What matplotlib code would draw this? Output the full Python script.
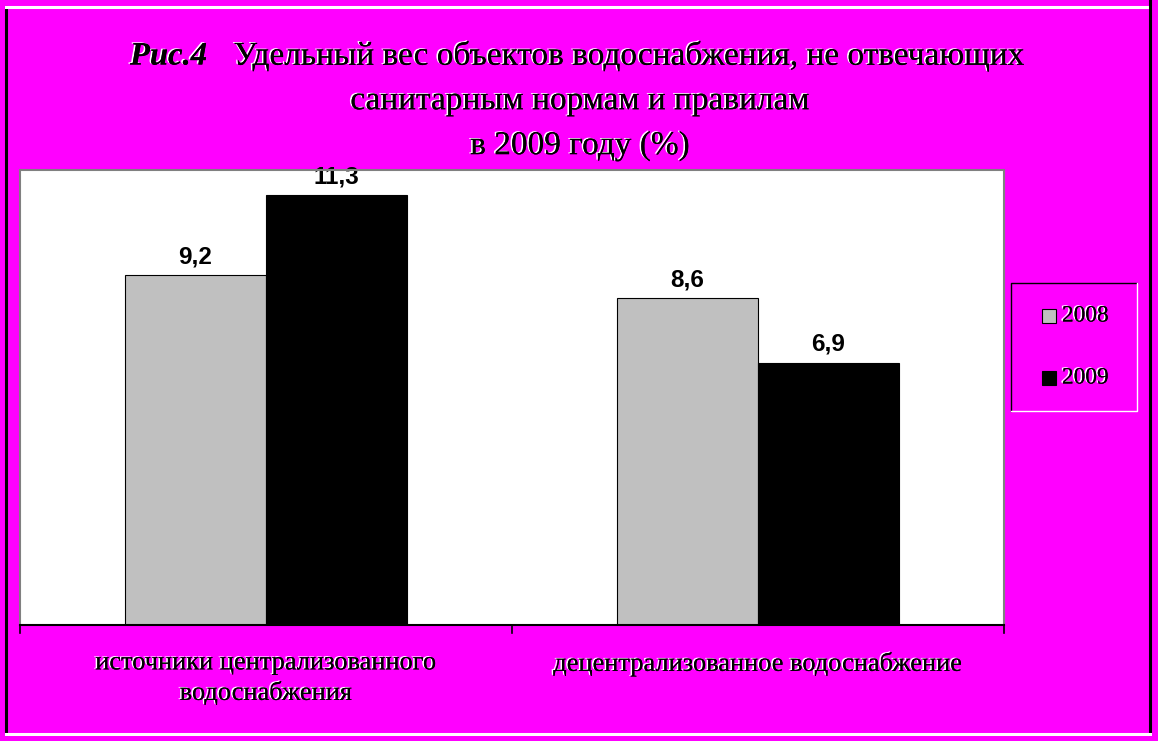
import matplotlib
matplotlib.use("Agg")
import matplotlib.pyplot as plt
import matplotlib.patheffects as pe
from matplotlib.patches import Rectangle
from matplotlib.lines import Line2D
import numpy as np

categories = ["источники централизованного\nводоснабжения", "децентрализованное водоснабжение"]
series_names = ["2008", "2009"]
values_2008 = [9.2, 8.6]
values_2009 = [11.3, 6.9]
value_labels_2008 = ["9,2", "8,6"]
value_labels_2009 = ["11,3", "6,9"]

MAG = "#FF00FF"
W, H = 1158, 741
fig = plt.figure(figsize=(W / 100, H / 100), dpi=100, facecolor=MAG)

def fx(px):
    return px / W

def fy(py):
    return 1 - py / H

serif = ["Liberation Serif", "DejaVu Serif"]
sans = ["Liberation Sans", "DejaVu Sans"]
emboss = [pe.withSimplePatchShadow(offset=(-1.2, 0.6), shadow_rgbFace="white", alpha=1.0), pe.Normal()]

# outer frame lines
fig.add_artist(Line2D([fx(6), fx(6)], [fy(7), fy(734)], color="black", lw=2.2, transform=fig.transFigure))
fig.add_artist(Line2D([fx(6), fx(1150)], [fy(7), fy(7)], color="white", lw=2.2, transform=fig.transFigure))
fig.add_artist(Line2D([fx(1150), fx(1150)], [fy(0), fy(734)], color="black", lw=2.2, transform=fig.transFigure))
fig.add_artist(Line2D([fx(6), fx(1150)], [fy(734), fy(734)], color="white", lw=2.2, transform=fig.transFigure))

ax = fig.add_axes([fx(20), fy(625), fx(1004) - fx(20), fy(170) - fy(625)])
ax.set_facecolor("white")
x = np.arange(len(categories))
bw = 0.2866
b1 = ax.bar(x - bw / 2, values_2008, width=bw, color="#C0C0C0", edgecolor="black", linewidth=0.8, zorder=2)
b2 = ax.bar(x + bw / 2, values_2009, width=bw, color="black", edgecolor="black", linewidth=0.8, zorder=2)
ax.set_xlim(-0.5, 1.5)
ax.set_ylim(0, 11.97)
ax.set_yticks([])
ax.set_xticks([])
for s in ["left", "top", "right"]:
    ax.spines[s].set_color("#808080")
    ax.spines[s].set_linewidth(1.5)
ax.spines["bottom"].set_color("black")
ax.spines["bottom"].set_linewidth(1.5)

# category boundary ticks
for xb in [-0.5, 0.5, 1.5]:
    ax.plot([xb, xb], [0, -0.22], color="black", lw=1.2, clip_on=False, zorder=3)

for rects, labs in [(b1, value_labels_2008), (b2, value_labels_2009)]:
    for r, lab in zip(rects, labs):
        ax.annotate(lab, (r.get_x() + r.get_width() / 2, r.get_height()), xytext=(0, 5),
                    textcoords="offset points", ha="center", va="bottom",
                    fontsize=17.5, fontweight="bold", family=sans, color="black", zorder=1)

# category labels
for xi, cat in zip(x, categories):
    ax.text(xi, -0.72, cat, ha="center", va="top", fontsize=19, family=serif,
            linespacing=1.38, color="black", path_effects=emboss)

# title
fig.text(fx(130), fy(56), "Рис.4", ha="left", va="center", fontsize=23.5, family=serif,
         fontweight="bold", fontstyle="italic", path_effects=emboss)
fig.text(fx(629), fy(56), "Удельный вес объектов водоснабжения, не отвечающих", ha="center", va="center",
         fontsize=24, family=serif, path_effects=emboss)
fig.text(fx(580), fy(101), "санитарным нормам и правилам", ha="center", va="center",
         fontsize=24, family=serif, path_effects=emboss)
fig.text(fx(580), fy(146), "в 2009 году (%)", ha="center", va="center",
         fontsize=24, family=serif, path_effects=emboss)

# legend box
lx0, ly0, lx1, ly1 = 1011, 283, 1137, 411
fig.add_artist(Line2D([fx(lx0), fx(lx0), fx(lx1)], [fy(ly1), fy(ly0), fy(ly0)], color="black", lw=1.0, transform=fig.transFigure))
fig.add_artist(Line2D([fx(lx0), fx(lx1), fx(lx1)], [fy(ly1), fy(ly1), fy(ly0)], color="white", lw=1.0, transform=fig.transFigure))
for i, (name, col) in enumerate(zip(series_names, ["#C0C0C0", "black"])):
    cy = 316 + i * 62
    fig.add_artist(Rectangle((fx(1042), fy(cy + 7)), fx(14), fy(cy - 7) - fy(cy + 7), facecolor=col,
                             edgecolor="black", lw=0.8, transform=fig.transFigure))
    fig.text(fx(1062), fy(cy), name, ha="left", va="center", fontsize=16.8, family=serif, path_effects=emboss)

fig.savefig("out.png", dpi=100, facecolor=MAG)
